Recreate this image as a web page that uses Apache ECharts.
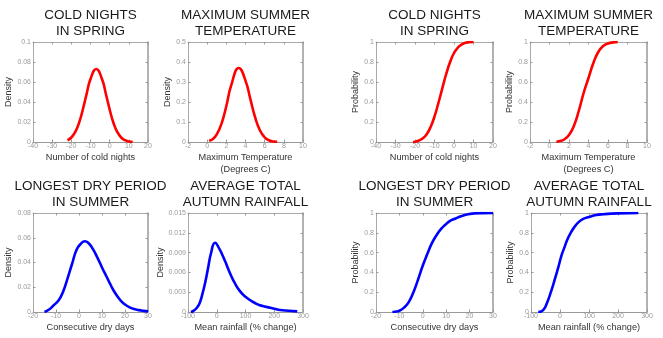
<!DOCTYPE html>
<html><head><meta charset="utf-8">
<script src="https://cdn.jsdelivr.net/npm/echarts@6/dist/echarts.min.js"></script>
<style>html,body{margin:0;padding:0;background:#fff}#c{width:663px;height:338px}</style>
</head><body><div id="c"></div>
<script>
// Panel titles
const titles = ["COLD NIGHTS\nIN SPRING","MAXIMUM SUMMER\nTEMPERATURE","COLD NIGHTS\nIN SPRING","MAXIMUM SUMMER\nTEMPERATURE",
  "LONGEST DRY PERIOD\nIN SUMMER","AVERAGE TOTAL\nAUTUMN RAINFALL","LONGEST DRY PERIOD\nIN SUMMER","AVERAGE TOTAL\nAUTUMN RAINFALL"];
const xNames = ["Number of cold nights","Maximum Temperature\n(Degrees C)","Number of cold nights","Maximum Temperature\n(Degrees C)",
  "Consecutive dry days","Mean rainfall (% change)","Consecutive dry days","Mean rainfall (% change)"];
const yNames = ["Density","Density","Probability","Probability","Density","Density","Probability","Probability"];

// Axis ranges (min, max, interval)
const xRanges = [[-40,20,10],[-2,10,2],[-40,20,10],[-2,10,2],[-20,30,10],[-100,300,100],[-20,30,10],[-100,300,100]];
const yRanges = [[0,0.1,0.02],[0,0.5,0.1],[0,1,0.2],[0,1,0.2],[0,0.08,0.02],[0,0.015,0.003],[0,1,0.2],[0,1,0.2]];

// Cold nights density
const coldDensX = [-22,-20,-18,-16,-14,-12,-10,-7,-4,-2,0,2,4,6,8,10,12];
const coldDensY = [0.0018,0.0045,0.0099,0.019,0.0325,0.0483,0.063,0.073,0.063,0.0483,0.0325,0.019,0.0099,0.0045,0.0018,0.0006,0.0002];
// Max temperature density
const tempDensX = [0.2,0.6,1,1.5,2,2.5,3.3,4,4.5,5,5.5,6,6.5,7,7.3];
const tempDensY = [0.006,0.015,0.038,0.092,0.18,0.282,0.37,0.307,0.216,0.124,0.059,0.023,0.0077,0.002,0.001];
// Cold nights cumulative
const coldCdfX = [-21,-20,-18,-16,-14,-12,-10,-8,-6,-4,-2,0,2,4,6,8,10];
const coldCdfY = [0,0.003,0.015,0.037,0.078,0.15,0.255,0.39,0.537,0.68,0.80,0.89,0.945,0.976,0.993,0.999,1.0];
// Max temperature cumulative
const tempCdfX = [0.7,1,1.5,2,2.5,3,3.5,4,4.5,5,5.5,6,6.5,7];
const tempCdfY = [0.002,0.007,0.025,0.07,0.16,0.31,0.49,0.64,0.79,0.90,0.96,0.985,0.996,1.0];
// Dry period density
const dryDensX = [-15,-13,-11,-9,-7,-5,-3,-1,1,2.5,4,6,8,10,12,14,16,18,20,22,24,26,28,30];
const dryDensY = [0,0.002,0.0055,0.009,0.016,0.027,0.039,0.0505,0.0555,0.0572,0.056,0.051,0.044,0.036,0.0285,0.021,0.0145,0.0095,0.006,0.0038,0.0024,0.0015,0.0009,0.0005];
// Rainfall density
const rainDensX = [-90,-80,-70,-60,-50,-40,-30,-20,-6,10,20,30,40,50,60,80,100,120,140,160,180,200,220,250,280];
const rainDensY = [0,0.0002,0.0006,0.0013,0.0027,0.0045,0.0067,0.0089,0.0105,0.0095,0.0086,0.0076,0.0065,0.0055,0.0046,0.0032,0.0023,0.0017,0.0012,0.0009,0.0007,0.0005,0.0003,0.0002,0.0001];
// Dry period cumulative
const dryCdfX = [-13,-12,-10,-8,-6,-4,-2,0,2,4,6,8,10,12,14,16,18,20,22,25,30];
const dryCdfY = [0,0.003,0.013,0.045,0.1,0.2,0.33,0.47,0.59,0.70,0.78,0.845,0.89,0.925,0.945,0.965,0.98,0.99,0.996,0.999,1];
// Rainfall cumulative
const rainCdfX = [-75,-65,-55,-45,-35,-25,-15,-5,5,15,25,35,50,65,80,100,125,150,200,270];
const rainCdfY = [0,0.005,0.03,0.09,0.17,0.26,0.36,0.46,0.57,0.65,0.73,0.79,0.86,0.91,0.94,0.96,0.98,0.988,0.996,1];

const seriesX = [coldDensX,tempDensX,coldCdfX,tempCdfX,dryDensX,rainDensX,dryCdfX,rainCdfX];
const seriesY = [coldDensY,tempDensY,coldCdfY,tempCdfY,dryDensY,rainDensY,dryCdfY,rainCdfY];
const colors = ["#ff0000","#ff0000","#ff0000","#ff0000","#0000ff","#0000ff","#0000ff","#0000ff"];

// layout
const grids = [
  {left:33,top:42,width:115,height:100},{left:188,top:42,width:115,height:100},
  {left:376,top:42,width:117,height:100},{left:530,top:42,width:117,height:100},
  {left:33,top:213,width:115,height:99},{left:188,top:213,width:115,height:99},
  {left:376,top:213,width:117,height:99},{left:531,top:213,width:116,height:99}];
const yGaps = [18,14.5,15.5,15.5,18,20.5,15.5,16];

const FONT = "'Liberation Sans', Arial, sans-serif";
const option = {animation:false, backgroundColor:'#fff', title:[], grid:[], xAxis:[], yAxis:[], series:[]};
for (let i=0;i<8;i++){
  const g = grids[i];
  option.grid.push(g);
  const top = i<4 ? 7 : 179;
  option.title.push({text:titles[i], left:g.left+g.width/2, top:top, textAlign:'center', padding:0,
    textStyle:{fontFamily:FONT,fontSize:13.5,fontWeight:'normal',color:'#1a1a1a',lineHeight:i<4?16:15.5}});
  const [xmin,xmax,xint] = xRanges[i];
  const [ymin,ymax,yint] = yRanges[i];
  const line = {show:true,lineStyle:{color:'#aaa',width:1}};
  const tick = {show:true,inside:true,length:2.5,lineStyle:{color:'#999'}};
  option.xAxis.push({type:'value',gridIndex:i,min:xmin,max:xmax,interval:xint,position:'bottom',
    axisLine:{show:true,onZero:false,lineStyle:{color:'#999',width:1}},axisTick:tick,splitLine:{show:false},
    axisLabel:{fontFamily:FONT,fontSize:7,color:'#999',margin:1,showMinLabel:true,showMaxLabel:true},
    name:xNames[i],nameLocation:'middle',nameGap:9.5,
    nameTextStyle:{fontFamily:FONT,fontSize:9.2,color:'#333',lineHeight:12,verticalAlign:'top'}});
  option.xAxis.push({type:'value',gridIndex:i,min:xmin,max:xmax,interval:xint,position:'top',
    axisLine:Object.assign({},line,{onZero:false}),axisTick:tick,axisLabel:{show:false},splitLine:{show:false}});
  option.yAxis.push({type:'value',gridIndex:i,min:ymin,max:ymax,interval:yint,position:'left',
    axisLine:Object.assign({},line,{onZero:false}),axisTick:tick,splitLine:{show:false},
    axisLabel:{fontFamily:FONT,fontSize:7,color:'#999',margin:2},
    name:yNames[i],nameLocation:'middle',nameGap:yGaps[i],nameRotate:90,
    nameTextStyle:{fontFamily:FONT,fontSize:9,color:'#333'}});
  option.yAxis.push({type:'value',gridIndex:i,min:ymin,max:ymax,interval:yint,position:'right',
    axisLine:{show:true,onZero:false,lineStyle:{color:'#999',width:1.5}},axisTick:tick,axisLabel:{show:false},splitLine:{show:false}});
  option.series.push({type:'line',xAxisIndex:2*i,yAxisIndex:2*i,showSymbol:false,smooth:0.5,
    data:seriesX[i].map((x,k)=>[x,seriesY[i][k]]),lineStyle:{color:colors[i],width:2.6},itemStyle:{color:colors[i]}});
}
const chart = echarts.init(document.getElementById('c'),null,{renderer:'canvas'});
chart.setOption(option);
</script>
</body></html>
